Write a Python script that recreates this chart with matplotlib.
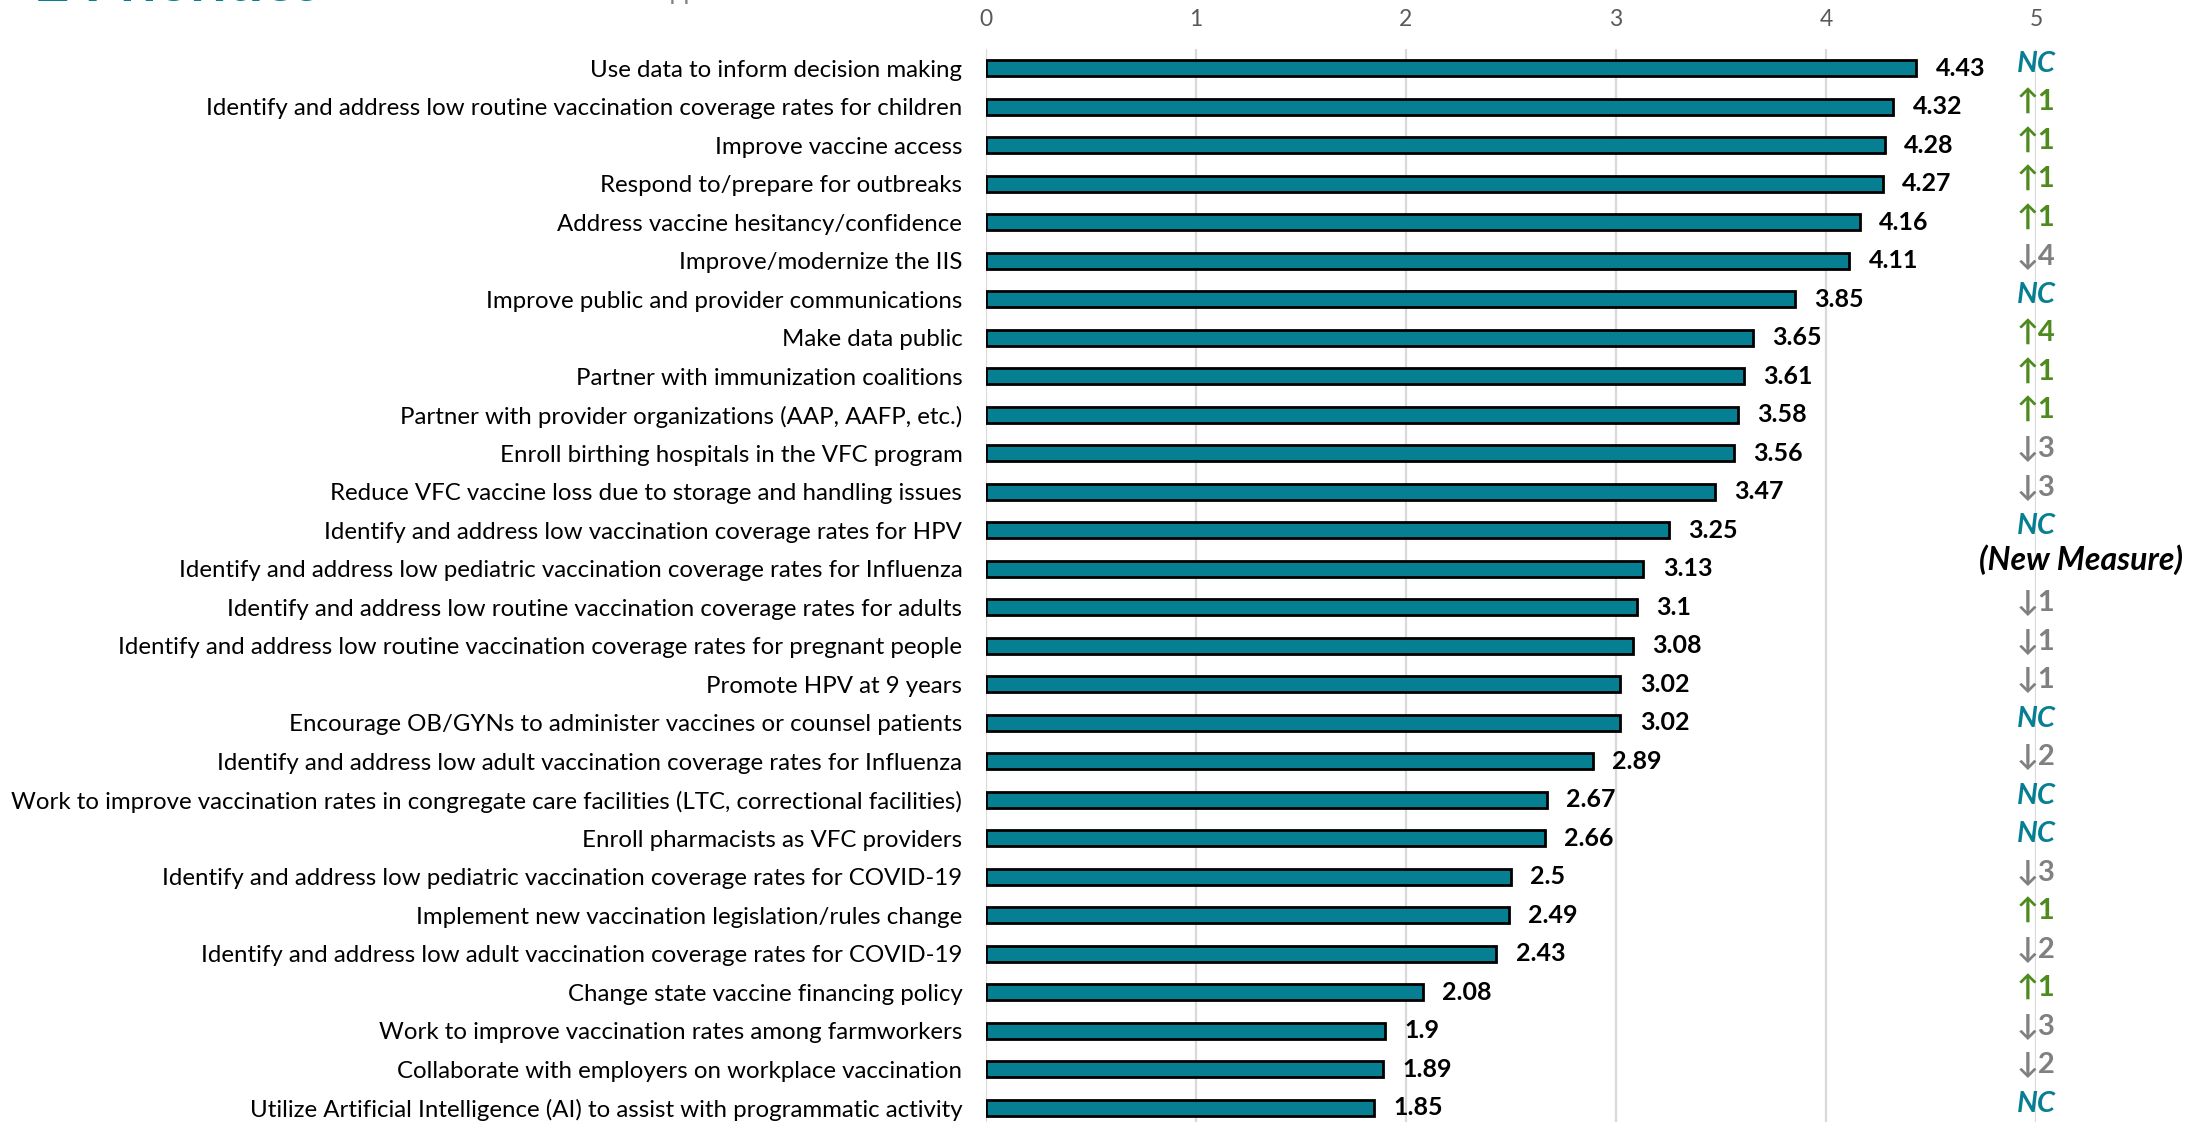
import matplotlib
matplotlib.use("Agg")
import matplotlib.pyplot as plt

plt.rcParams['font.family'] = ['Lato', 'DejaVu Sans']

categories = [
    "Use data to inform decision making",
    "Identify and address low routine vaccination coverage rates for children",
    "Improve vaccine access",
    "Respond to/prepare for outbreaks",
    "Address vaccine hesitancy/confidence",
    "Improve/modernize the IIS",
    "Improve public and provider communications",
    "Make data public",
    "Partner with immunization coalitions",
    "Partner with provider organizations (AAP, AAFP, etc.)",
    "Enroll birthing hospitals in the VFC program",
    "Reduce VFC vaccine loss due to storage and handling issues",
    "Identify and address low vaccination coverage rates for HPV",
    "Identify and address low pediatric vaccination coverage rates for Influenza",
    "Identify and address low routine vaccination coverage rates for adults",
    "Identify and address low routine vaccination coverage rates for pregnant people",
    "Promote HPV at 9 years",
    "Encourage OB/GYNs to administer vaccines or counsel patients",
    "Identify and address low adult vaccination coverage rates for Influenza",
    "Work to improve vaccination rates in congregate care facilities (LTC, correctional facilities)",
    "Enroll pharmacists as VFC providers",
    "Identify and address low pediatric vaccination coverage rates for COVID-19",
    "Implement new vaccination legislation/rules change",
    "Identify and address low adult vaccination coverage rates for COVID-19",
    "Change state vaccine financing policy",
    "Work to improve vaccination rates among farmworkers",
    "Collaborate with employers on workplace vaccination",
    "Utilize Artificial Intelligence (AI) to assist with programmatic activity",
]
scores = [4.43, 4.32, 4.28, 4.27, 4.16, 4.11, 3.85, 3.65, 3.61, 3.58, 3.56, 3.47,
          3.25, 3.13, 3.1, 3.08, 3.02, 3.02, 2.89, 2.67, 2.66, 2.5, 2.49, 2.43,
          2.08, 1.9, 1.89, 1.85]
score_labels = ["4.43", "4.32", "4.28", "4.27", "4.16", "4.11", "3.85", "3.65", "3.61",
                "3.58", "3.56", "3.47", "3.25", "3.13", "3.1", "3.08", "3.02", "3.02",
                "2.89", "2.67", "2.66", "2.5", "2.49", "2.43", "2.08", "1.9", "1.89", "1.85"]
# rank change vs previous year: "NC", "up1", "down3", "new"
changes = ["NC", "up1", "up1", "up1", "up1", "down4", "NC", "up4", "up1", "up1",
           "down3", "down3", "NC", "new", "down1", "down1", "down1", "NC", "down2",
           "NC", "NC", "down3", "up1", "down2", "up1", "down3", "down2", "NC"]
xticks = [0, 1, 2, 3, 4, 5]

teal = "#067f93"
green = "#4e8a1e"
gray = "#808080"

fig = plt.figure(figsize=(21.9, 11.22), dpi=100)
ax = fig.add_axes([0.4502, -0.0045, 0.4795, 0.9608])

ypos = list(range(len(categories)))
ax.barh(ypos, scores, height=0.42, color=teal, edgecolor="black", linewidth=2, zorder=3)
ax.set_xlim(0, 5)
ax.set_ylim(len(categories) - 0.5, -0.5)

ax.set_xticks(xticks)
ax.xaxis.tick_top()
ax.tick_params(axis="x", length=0, pad=14, labelsize=16.5, labelcolor="#595959")
ax.set_yticks(ypos)
ax.set_yticklabels(categories, fontsize=17.3)
ax.tick_params(axis="y", length=0, pad=17)
ax.grid(axis="x", color="#d9d9d9", linewidth=1.6, zorder=0)
ax.set_axisbelow(True)
for s in ax.spines.values():
    s.set_visible(False)

for y, v, lab in zip(ypos, scores, score_labels):
    ax.annotate(lab, (v, y), xytext=(14, 0), textcoords="offset points",
                va="center", ha="left", fontsize=18, fontweight="bold", color="black")

for y, c in zip(ypos, changes):
    yy = y - 0.1
    if c == "NC":
        ax.text(5, yy, "NC", ha="center", va="center", fontsize=21, fontweight="bold",
                fontstyle="italic", color=teal, clip_on=False)
    elif c == "new":
        ax.text(4.73, yy - 0.15, "(New Measure)", ha="left", va="center", fontsize=23,
                fontweight="bold", fontstyle="italic", color="black", clip_on=False)
    elif c.startswith("up"):
        ax.text(5, yy, "\u2191" + c[2:], ha="center", va="center", fontsize=21,
                fontweight="bold", color=green, clip_on=False)
    else:
        ax.text(5, yy, "\u2193" + c[4:], ha="center", va="center", fontsize=21,
                fontweight="bold", color=gray, clip_on=False)

# cropped header fragments at top of the slide
fig.text(320 / 2190, 1 - 1 / 1122, "2 Priorities", ha="right", va="baseline",
         fontsize=42, fontweight="bold", color=teal)
fig.text(642 / 2190, 1.0, "Support", ha="left", va="baseline", fontsize=18, color=gray)

fig.savefig("out.png", dpi=100)
